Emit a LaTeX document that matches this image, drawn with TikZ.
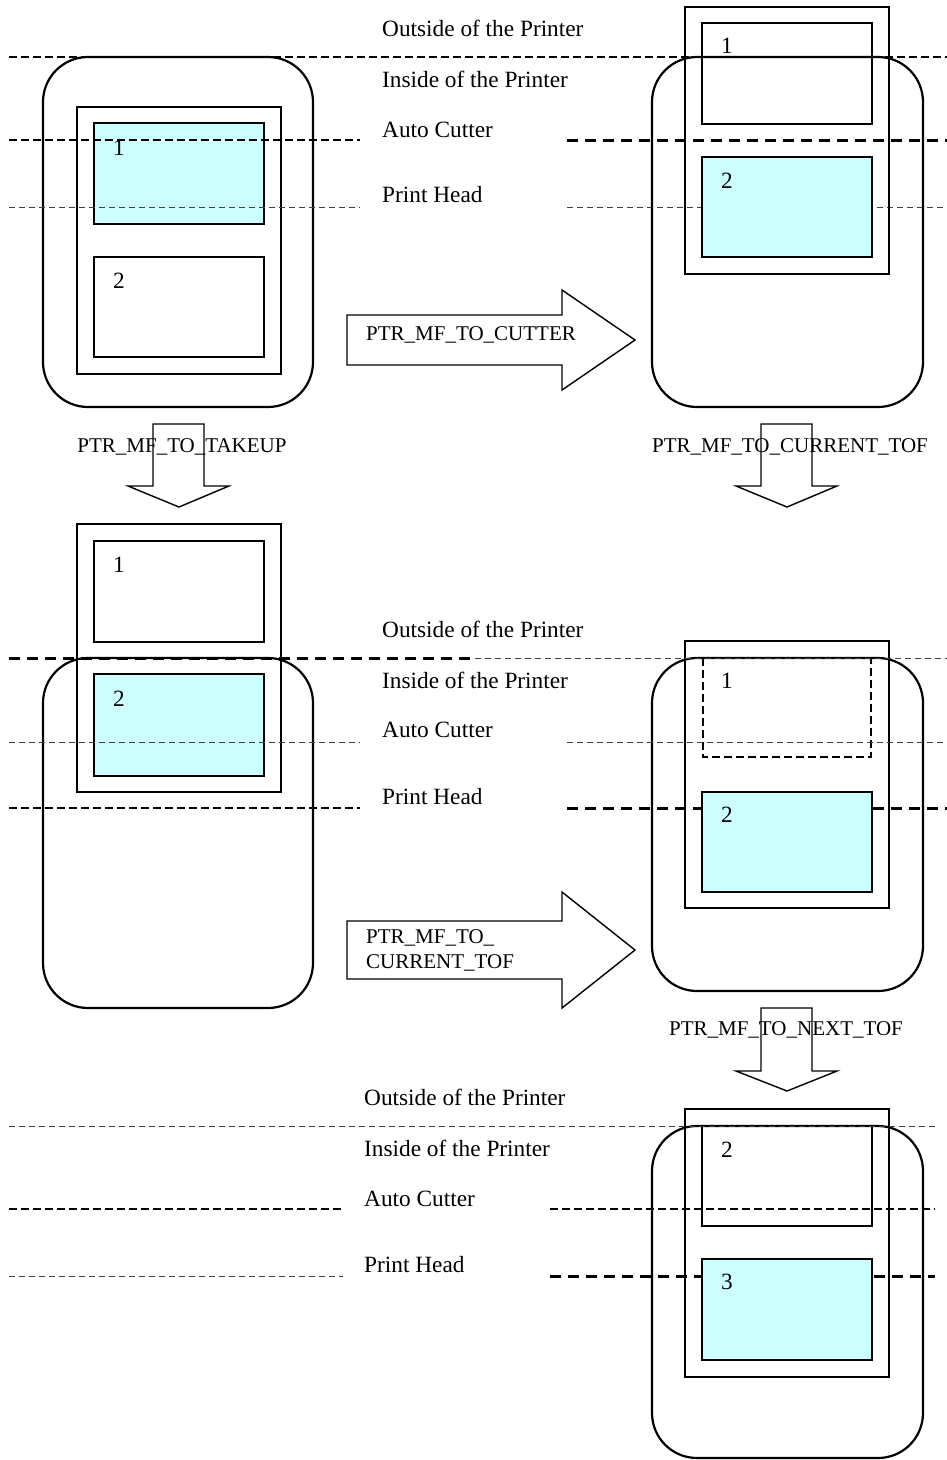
\documentclass[tikz,border=0pt]{standalone}
\usepackage{fontspec}
\setmainfont{Liberation Serif}
\definecolor{papercyan}{HTML}{CCFFFF}
\begin{document}
\begin{tikzpicture}[x=1pt,y=-1pt,
  body/.style={line width=2.2pt, rounded corners=45pt},
  strip/.style={line width=1.5pt},
  lbox/.style={line width=1.4pt},
  paper/.style={lbox, fill=papercyan},
  dbox/.style={line width=1.4pt, dash pattern=on 8pt off 4pt},
  dthin/.style={line width=0.9pt, dash pattern=on 6pt off 4pt, draw=black!75},
  dmed/.style={line width=1.3pt, dash pattern=on 8pt off 4pt},
  dthick/.style={line width=3pt, dash pattern=on 11pt off 7pt},
  barrow/.style={line width=1.4pt, line join=miter},
  lvl/.style={anchor=base west, inner sep=0pt, font=\fontsize{23.3}{28}\selectfont},
  num/.style={anchor=base west, inner sep=0pt, font=\fontsize{23.3}{28}\selectfont},
  cmd/.style={inner sep=0pt, font=\fontsize{21}{25}\selectfont},
  cmdl/.style={anchor=base west, inner sep=0pt, font=\fontsize{21}{25}\selectfont, align=left}
]
\useasboundingbox (0,0) rectangle (947,1460);

%% ---------------- Panel 1 (top left) ----------------
\node[lvl] (o1) at (382,36) {Outside of the Printer};
\node[lvl] (i1) at (382,87) {Inside of the Printer};
\node[lvl] (a1) at (382,137) {Auto Cutter};
\node[lvl] (p1) at (382,202) {Print Head};

\draw[body] (43,57) rectangle (313,407);
\draw[strip] (77,107) rectangle (281,374);
\draw[paper] (94,123) rectangle (264,224);
\draw[lbox] (94,257) rectangle (264,357);
\node[num] (n11) at (113,155) {1};
\node[num] (n12) at (113,288) {2};

%% ---------------- Panel 2 (top right) ----------------
\draw[dthin] (567,207) -- (947,207);
\draw[body] (652,57) rectangle (923,407);
\draw[strip] (685,7) rectangle (889,274);
\draw[lbox] (702,23) rectangle (872,124);
\draw[paper] (702,157) rectangle (872,257);
\node[num] (n21) at (721,53) {1};
\node[num] (n22) at (721,188) {2};

%% panel 1/2 level lines
\draw[dmed] (9,57) -- (947,57);
\draw[dmed] (9,140) -- (360,140);
\draw[dthin] (9,207) -- (360,207);
\draw[dthick] (567,140) -- (947,140);

%% arrow PTR_MF_TO_CUTTER
\draw[barrow] (347,315) -- (562,315) -- (562,290) -- (635,340) -- (562,390) -- (562,365) -- (347,365) -- cycle;
\node[cmdl] (c1) at (366,340) {PTR\_MF\_TO\_CUTTER};

%% down arrows
\draw[barrow] (153,424) -- (204,424) -- (204,486) -- (229,486) -- (179,507) -- (128,486) -- (153,486) -- cycle;
\node[cmd, anchor=base] (c2) at (182,452) {PTR\_MF\_TO\_TAKEUP};
\draw[barrow] (761,424) -- (812,424) -- (812,486) -- (837,486) -- (787,507) -- (736,486) -- (761,486) -- cycle;
\node[cmd, anchor=base] (c3) at (790,452) {PTR\_MF\_TO\_CURRENT\_TOF};

%% ---------------- Panel 3 (middle left) ----------------
\node[lvl] (o3) at (382,637) {Outside of the Printer};
\node[lvl] (i3) at (382,688) {Inside of the Printer};
\node[lvl] (a3) at (382,737) {Auto Cutter};
\node[lvl] (p3) at (382,804) {Print Head};

\draw[strip] (77,524) rectangle (281,792);
\draw[lbox] (94,541) rectangle (264,642);
\draw[body] (43,658) rectangle (313,1008);
\draw[paper] (94,674) rectangle (264,776);
\node[num] (n31) at (113,572) {1};
\node[num] (n32) at (113,706) {2};

%% ---------------- Panel 4 (middle right) ----------------
\draw[dthick] (567,808) -- (947,808);
\draw[body] (652,658) rectangle (923,991);
\draw[strip] (685,641) rectangle (889,908);
\draw[dbox] (703,658) rectangle (871,757);
\draw[paper] (702,792) rectangle (872,892);
\node[num] (n41) at (721,688) {1};
\node[num] (n42) at (721,822) {2};

%% panel 3/4 level lines
\draw[dthick] (9,658) -- (475,658);
\draw[dthin] (475,658) -- (947,658);
\draw[dthin] (9,742) -- (360,742);
\draw[dmed] (9,808) -- (360,808);
\draw[dthin] (567,742) -- (947,742);

%% arrow PTR_MF_TO_CURRENT_TOF
\draw[barrow] (347,921) -- (562,921) -- (562,892) -- (635,950) -- (562,1008) -- (562,979) -- (347,979) -- cycle;
\node[cmdl] (c4) at (366,943) {PTR\_MF\_TO\_};
\node[cmdl] (c5) at (366,968) {CURRENT\_TOF};

%% down arrow PTR_MF_TO_NEXT_TOF
\draw[barrow] (761,1008) -- (812,1008) -- (812,1071) -- (837,1071) -- (787,1091) -- (736,1071) -- (761,1071) -- cycle;
\node[cmd, anchor=base] (c6) at (786,1035) {PTR\_MF\_TO\_NEXT\_TOF};

%% ---------------- Panel 5 (bottom) ----------------
\node[lvl] (o5) at (364,1105) {Outside of the Printer};
\node[lvl] (i5) at (364,1156) {Inside of the Printer};
\node[lvl] (a5) at (364,1206) {Auto Cutter};
\node[lvl] (p5) at (364,1272) {Print Head};

\draw[dthick] (550,1276) -- (935,1276);
\draw[body] (652,1126) rectangle (923,1458);
\draw[strip] (685,1109) rectangle (889,1377);
\draw[lbox] (702,1126) rectangle (872,1226);
\draw[paper] (702,1259) rectangle (872,1360);
\node[num] (n52) at (721,1157) {2};
\node[num] (n53) at (721,1289) {3};

\draw[dthin] (9,1126) -- (935,1126);
\draw[dmed] (9,1209) -- (343,1209);
\draw[dthin] (9,1276) -- (343,1276);
\draw[dmed] (550,1209) -- (935,1209);
\end{tikzpicture}
\end{document}
